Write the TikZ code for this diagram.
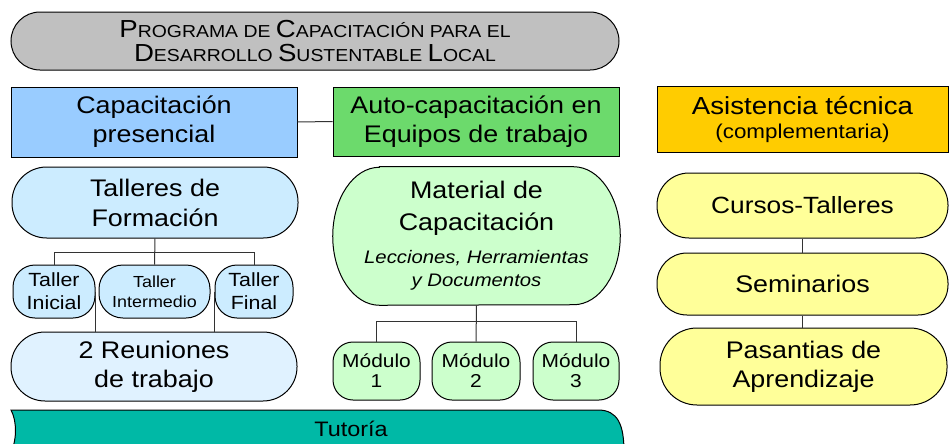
\documentclass[tikz,border=0pt]{standalone}
\usepackage{fontspec}
\setmainfont{Liberation Sans}[FakeStretch=1.12]
\usetikzlibrary{backgrounds}

\definecolor{titlegray}{HTML}{C0C0C0}
\definecolor{presblue}{HTML}{99CCFF}
\definecolor{autogreen}{HTML}{6CDA6C}
\definecolor{asisorange}{HTML}{FFCC00}
\definecolor{tallblue}{HTML}{CCECFF}
\definecolor{reunblue}{HTML}{E0F2FF}
\definecolor{matgreen}{HTML}{CCFFCC}
\definecolor{asisyellow}{HTML}{FFFF99}
\definecolor{tutteal}{HTML}{00B9A6}

\newcommand{\Ini}[1]{{\fontsize{18.5}{17.5}\selectfont #1}}
\newcommand{\matsub}{\itshape\fontsize{13.6}{17}\selectfont}

\tikzset{
    every node/.style={align=center, inner sep=0pt},
    boxsize/.style 2 args={minimum width=#1*0.75pt, minimum height=#2*0.75pt},
    plainbox/.style={draw, line width=0.75pt, rectangle},
    pill/.style={draw, line width=0.75pt, rounded corners=#1},
    link/.style={line width=0.75pt, draw=black!80},
    headfont/.style={font=\fontsize{18}{#1}\selectfont},
}

\begin{document}
\begin{tikzpicture}[x=0.75pt, y=-0.75pt]
        \useasboundingbox (0,0) rectangle (949,443);

        \draw[line width=0.75pt, fill=tutteal] (11,410) -- (598,410)
            .. controls (618,410) and (624,425) .. (624,452) -- (11,452)
            .. controls (17,440) and (17,421) .. (11,410) -- cycle;
        \node[font=\fontsize{15.7}{18}\selectfont] (tut) at (351,429) {Tutoría};

        \node[pill=21.75pt, fill=titlegray, boxsize={608}{58}, font=\fontsize{13}{17.5}\selectfont] (prog) at (315,41)
            {\Ini{P}ROGRAMA DE \Ini{C}APACITACIÓN PARA EL\\\Ini{D}ESARROLLO \Ini{S}USTENTABLE \Ini{L}OCAL};

        \node[plainbox, fill=presblue, boxsize={286}{70}, headfont=21.75] (pres) at (154,122) {Capacitación\\presencial};
        \node[plainbox, fill=autogreen, boxsize={286}{69}, headfont=21.75] (auto) at (476,121.5) {Auto-capacitación en\\Equipos de trabajo};
        \node[plainbox, fill=asisorange, boxsize={291}{66}, font=\fontsize{18.5}{17.5}\selectfont] (asis) at (802.5,119.5)
            {Asistencia técnica\\{\fontsize{15}{17}\selectfont (complementaria)}};
        \draw[link] (pres.east) -- (auto.west);

        \node[pill=26pt, fill=tallblue, boxsize={286}{71}, headfont=22.5] (tform) at (155,202.5) {Talleres de\\Formación};
        \node[pill=16.5pt, fill=tallblue, boxsize={82}{53}, font=\fontsize{14.3}{17}\selectfont] (tini) at (54,291.5) {Taller\\Inicial};
        \node[pill=18pt, fill=tallblue, boxsize={111}{53}, font=\fontsize{12}{15}\selectfont] (tint) at (154.5,291.5) {Taller\\Intermedio};
        \node[pill=16.5pt, fill=tallblue, boxsize={78}{53}, font=\fontsize{14.3}{17}\selectfont] (tfin) at (254,291.5) {Taller\\Final};
        \node[pill=25.5pt, fill=reunblue, boxsize={286}{69}, headfont=22] (reun) at (154,366.5) {2 Reuniones\\de trabajo};

        \draw[link] (tform.south) -- (tint.north);
        \draw[link] (tini.north) -- ++(0,-12) -| (tfin.north);
        \draw[link] (tini.east) -- (tini.east |- reun.north);
        \draw[link] (tfin.west) -- (tfin.west |- reun.north);

        \node[boxsize={287}{138}, headfont=24] (mat) at (476.5,236)
            {Material de\\Capacitación\\[0.75pt]{\matsub Lecciones, Herramientas}\\[-6.75pt]{\matsub y Documentos}};
        \begin{scope}[on background layer]
            \draw[line width=0.75pt, fill=matgreen] ([xshift=35pt]mat.north west) -- ([xshift=-35pt]mat.north east)
                arc[start angle=90, end angle=-90, x radius=35pt, y radius=51.75pt]
                -- ([xshift=35pt]mat.south west)
                arc[start angle=270, end angle=90, x radius=35pt, y radius=51.75pt] -- cycle;
        \end{scope}

        \node[pill=15pt, fill=matgreen, boxsize={87}{58}, font=\fontsize{14}{15}\selectfont] (mod1) at (376.5,371) {Módulo\\1};
        \node[pill=15pt, fill=matgreen, boxsize={88}{58}, font=\fontsize{14}{15}\selectfont] (mod2) at (476,371) {Módulo\\2};
        \node[pill=15pt, fill=matgreen, boxsize={86}{58}, font=\fontsize{14}{15}\selectfont] (mod3) at (576,371) {Módulo\\3};

        \draw[link] (mat.south) -- (mod2.north);
        \draw[link] (mod1.north) -- ++(0,-20) -| (mod3.north);

        \node[pill=24pt, fill=asisyellow, boxsize={291}{65}, font=\fontsize{17.6}{22}\selectfont] (cur) at (802.5,205.5) {Cursos-Talleres};
        \node[pill=22.5pt, fill=asisyellow, boxsize={291}{62}, headfont=22] (sem) at (802.5,284) {Seminarios};
        \node[pill=27.75pt, fill=asisyellow, boxsize={287}{77}, headfont=21.75] (pas) at (803.5,366.5) {Pasantias de\\Aprendizaje};

        \draw[link] (cur.south) -- (sem.north);
        \draw[link] (sem.south) -- (sem.south |- pas.north);
    \end{tikzpicture}
\end{document}
